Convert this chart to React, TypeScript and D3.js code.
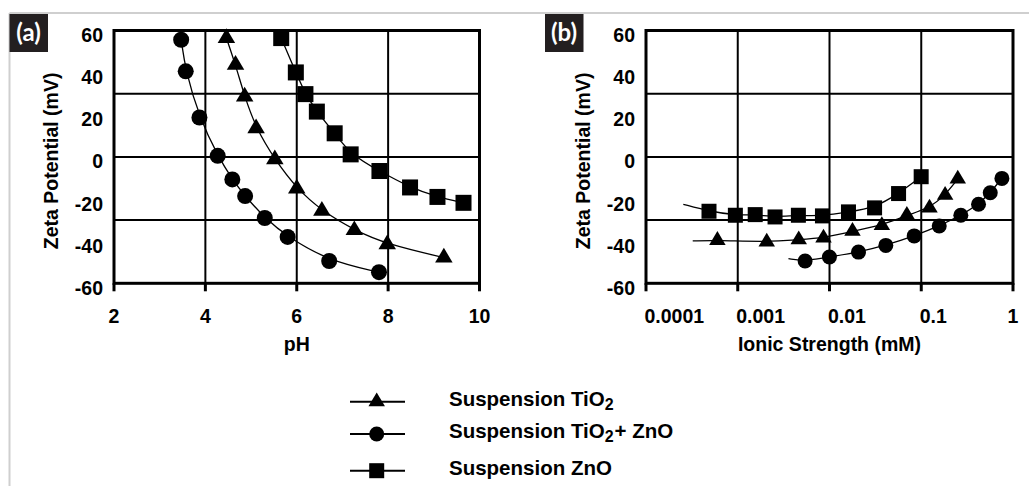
import React from "react";
import * as d3 from "d3";

// ---------- Data ----------
// Panel (a): zeta potential vs pH
const pHTriangles = [4.46, 4.66, 4.86, 5.11, 5.52, 6.0, 6.55, 7.26, 7.98, 9.22];
const zetaTriangles = [56.4, 43.7, 28.6, 13.6, -1.2, -15, -25.6, -34.8, -41.5, -47.8];
const pHCircles = [3.47, 3.57, 3.87, 4.27, 4.59, 4.87, 5.3, 5.8, 6.71, 7.8];
const zetaCircles = [55.6, 40.6, 18.7, 0.5, -10.7, -18.6, -29, -38, -49.4, -54.7];
const pHSquares = [5.66, 5.98, 6.19, 6.44, 6.83, 7.18, 7.81, 8.48, 9.08, 9.65];
const zetaSquares = [56.4, 40.1, 29.8, 21.5, 11.2, 1.2, -6.7, -14.5, -19, -21.8];

// Panel (b): zeta potential vs ionic strength (mM)
const ionicTriangles = [0.0006, 0.00207, 0.00462, 0.0086, 0.0178, 0.0372, 0.0697, 0.123, 0.182, 0.25];
const zetaIonicTriangles = [-39.6, -40.4, -39.3, -38.5, -35.3, -32.5, -27.7, -24.2, -18.2, -10.5];
const ionicCircles = [0.00542, 0.00998, 0.0207, 0.0411, 0.0838, 0.157, 0.27, 0.421, 0.565, 0.757];
const zetaIonicCircles = [-49.4, -47.5, -45.2, -42, -37.5, -32.8, -27.7, -22.5, -17, -10.2];
const ionicSquares = [0.000486, 0.000942, 0.00155, 0.00255, 0.00458, 0.00838, 0.0161, 0.031, 0.0566, 0.0998];
const zetaIonicSquares = [-25.8, -27.7, -27.4, -28.5, -27.7, -28, -26.1, -24.2, -17.4, -9.4];
// start points of the fitted curves in (b)
const fitStartTriangles = [0.000323, -39.9];
const fitStartCircles = [0.00357, -48.3];
const fitStartSquares = [0.000255, -22.5];

// Ticks
const yTicks = [60, 40, 20, 0, -20, -40, -60];
const yGrid = [30, 0, -30];
const pHTicks = [2, 4, 6, 8, 10];
const pHGrid = [4, 6, 8];
const ionicTicks = [0.0001, 0.001, 0.01, 0.1, 1];
const ionicTickLabels = ["0.0001", "0.001", "0.01", "0.1", "1"];
const ionicGrid = [0.001, 0.01, 0.1];

const legendLabels = ["Suspension TiO", "Suspension TiO", "Suspension ZnO"];

const FONT = "'Liberation Sans', Arial, Helvetica, sans-serif";
const TOP = 30.5;
const BOTTOM = 283.3;

type Shape = "triangle" | "circle" | "square";

function Marker({ x, y, shape, s }: { x: number; y: number; shape: Shape; s: number }) {
  if (shape === "circle") return <circle cx={x} cy={y} r={s / 2} fill="#000" />;
  if (shape === "square")
    return <rect x={x - s / 2} y={y - s / 2} width={s} height={s} fill="#000" />;
  const w = s + 1.5;
  const h = s * 0.92;
  const p = d3.path();
  p.moveTo(x, y - (2 * h) / 3);
  p.lineTo(x + w / 2, y + h / 3);
  p.lineTo(x - w / 2, y + h / 3);
  p.closePath();
  return <path d={p.toString()} fill="#000" />;
}

function Frame({
  x,
  y,
  vGrid,
  ticks,
  labels,
  anchorStart,
}: {
  x: any;
  y: d3.ScaleLinear<number, number>;
  vGrid: number[];
  ticks: number[];
  labels: string[];
  anchorStart: boolean;
}) {
  const [x0, x1] = x.range();
  return (
    <g>
      {yGrid.map((v) => (
        <line key={"h" + v} x1={x0} x2={x1} y1={y(v)} y2={y(v)} stroke="#000" strokeWidth={2} />
      ))}
      {vGrid.map((v) => (
        <line key={"v" + v} x1={x(v)} x2={x(v)} y1={TOP} y2={BOTTOM} stroke="#000" strokeWidth={2} />
      ))}
      <rect x={x0} y={TOP} width={x1 - x0} height={BOTTOM - TOP} fill="none" stroke="#000" strokeWidth={3} />
      {ticks.map((t) => (
        <line key={"t" + t} x1={x(t)} x2={x(t)} y1={BOTTOM} y2={BOTTOM + 8} stroke="#000" strokeWidth={3} />
      ))}
      {ticks.map((t, i) => {
        const last = i === ticks.length - 1;
        const start = anchorStart && !last;
        return (
          <text
            key={"l" + t}
            x={start ? x(t) - 1.5 : x(t)}
            y={BOTTOM + 40}
            textAnchor={start ? "start" : "middle"}
            fontFamily={FONT}
            fontWeight="bold"
            fontSize={19.5}
          >
            {labels[i]}
          </text>
        );
      })}
      {yTicks.map((v) => (
        <text
          key={"y" + v}
          x={x0 - 11}
          y={y(v) + 11.5}
          textAnchor="end"
          fontFamily={FONT}
          fontWeight="bold"
          fontSize={19.5}
        >
          {v}
        </text>
      ))}
      <text
        transform={`translate(${x0 - 56.5},${(TOP + BOTTOM) / 2 + 4}) rotate(-90)`}
        textAnchor="middle"
        fontFamily={FONT}
        fontWeight="bold"
        fontSize={19.5}
      >
        Zeta Potential (mV)
      </text>
    </g>
  );
}

function Series({
  xs,
  ys,
  x,
  y,
  shape,
  s,
  start,
}: {
  xs: number[];
  ys: number[];
  x: any;
  y: any;
  shape: Shape;
  s: number;
  start?: number[];
}) {
  const pts: [number, number][] = xs.map((v, i) => [x(v), y(ys[i])]);
  const curvePts = start ? [[x(start[0]), y(start[1])] as [number, number], ...pts] : pts;
  const line = d3.line().curve(d3.curveBasis)(curvePts) || "";
  return (
    <g>
      <path d={line} fill="none" stroke="#000" strokeWidth={1.3} />
      {pts.map((p, i) => (
        <Marker key={i} x={p[0]} y={p[1]} shape={shape} s={s} />
      ))}
    </g>
  );
}

function LabelBox({ x, label }: { x: number; label: string }) {
  return (
    <g>
      <rect x={x} y={14} width={38.5} height={38} fill="#231f20" />
      <text
        x={x + 19}
        y={41}
        textAnchor="middle"
        fill="#fff"
        fontFamily="Lato, 'Open Sans', sans-serif"
        fontWeight="bold"
        fontSize={24}
      >
        {label}
      </text>
    </g>
  );
}

export default function App() {
  const y = d3.scaleLinear().domain([-60, 60]).range([BOTTOM, TOP]);
  const xa = d3.scaleLinear().domain([2, 10]).range([114, 479.5]);
  const xb = d3.scaleLog().domain([0.0001, 1]).range([646, 1013]);

  const legendRows: Shape[] = ["triangle", "circle", "square"];
  const legendY = [401.7, 434, 470.7];

  return (
    <svg
      width={1029}
      height={486}
      style={{ position: "absolute", left: 0, top: 0, background: "#fff" }}
    >
      <rect x={0} y={0} width={1029} height={486} fill="#fff" />
      <line x1={9.5} x2={1029} y1={13} y2={13} stroke="#cfcfcf" strokeWidth={2} />
      <line x1={9.5} x2={9.5} y1={13} y2={486} stroke="#cfcfcf" strokeWidth={2} />

      {/* Panel (a) */}
      <LabelBox x={9.5} label="(a)" />
      <Frame x={xa} y={y} vGrid={pHGrid} ticks={pHTicks} labels={pHTicks.map(String)} anchorStart={false} />
      <text x={(114 + 479.5) / 2} y={351} textAnchor="middle" fontFamily={FONT} fontWeight="bold" fontSize={19.5}>
        pH
      </text>
      <Series xs={pHCircles} ys={zetaCircles} x={xa} y={y} shape="circle" s={16} />
      <Series xs={pHTriangles} ys={zetaTriangles} x={xa} y={y} shape="triangle" s={16} />
      <Series xs={pHSquares} ys={zetaSquares} x={xa} y={y} shape="square" s={16} />

      {/* Panel (b) */}
      <LabelBox x={545} label="(b)" />
      <Frame x={xb} y={y} vGrid={ionicGrid} ticks={ionicTicks} labels={ionicTickLabels} anchorStart={true} />
      <text x={(646 + 1013) / 2} y={351} textAnchor="middle" fontFamily={FONT} fontWeight="bold" fontSize={19.5}>
        Ionic Strength (mM)
      </text>
      <Series xs={ionicSquares} ys={zetaIonicSquares} x={xb} y={y} shape="square" s={15} start={fitStartSquares} />
      <Series xs={ionicTriangles} ys={zetaIonicTriangles} x={xb} y={y} shape="triangle" s={15} start={fitStartTriangles} />
      <Series xs={ionicCircles} ys={zetaIonicCircles} x={xb} y={y} shape="circle" s={15} start={fitStartCircles} />

      {/* Legend */}
      {legendRows.map((shape, i) => (
        <g key={shape}>
          <line x1={350} x2={405} y1={legendY[i]} y2={legendY[i]} stroke="#000" strokeWidth={2} />
          <Marker x={376.7} y={legendY[i]} shape={shape} s={15} />
          <text x={449} y={legendY[i] + 4} fontFamily={FONT} fontWeight="bold" fontSize={20.5}>
            {legendLabels[i]}
            {shape !== "square" && (
              <tspan fontSize={16} dy={4}>
                2
              </tspan>
            )}
            {shape === "circle" && (
              <tspan dy={-4} dx={1}>
                + ZnO
              </tspan>
            )}
          </text>
        </g>
      ))}
    </svg>
  );
}
